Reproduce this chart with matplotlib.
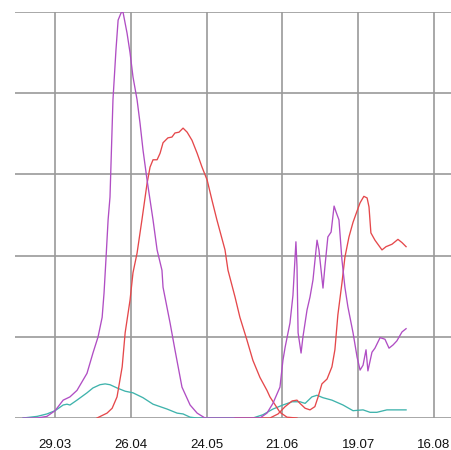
import matplotlib
matplotlib.use("Agg")
import matplotlib.pyplot as plt
import numpy as np

# days counted from 29.03, values in grid units
tick_days = [0, 28, 56, 84, 112, 140]
tick_labels = ["29.03", "26.04", "24.05", "21.06", "19.07", "16.08"]

purple_days = [-11.8, -6.6, -3.0, 0, 3.0, 5.5, 8.1, 11.8, 14.0, 15.9, 17.4, 18.1, 18.8, 19.6,
               20.3, 21.4, 22.5, 23.3, 24.4, 25.1, 26.6, 27.7, 28.8, 30.3, 31.4, 32.5, 34.0,
               36.2, 37.7, 39.5, 39.9, 42.5, 44.3, 46.9, 49.9, 52.5, 55.4, 75.7, 78.3, 80.5,
               83.1, 84.2, 85.0, 86.8, 87.9, 89.0, 89.4, 89.8, 90.9, 91.6, 93.1, 94.2, 95.3,
               96.8, 97.5, 99.0, 99.7, 100.8, 102.0, 103.1, 103.8, 104.9, 106.0, 107.1, 108.2,
               110.1, 111.6, 112.7, 113.8, 114.9, 115.6, 117.1, 118.2, 120.1, 121.9, 123.4,
               124.9, 126.3, 128.2, 129.7]
purple_vals = [0, 0, 0.02, 0.09, 0.22, 0.26, 0.34, 0.55, 0.80, 1.00, 1.24, 1.54, 1.95, 2.44,
               2.72, 3.92, 4.53, 4.90, 4.99, 5.0, 4.74, 4.50, 4.20, 3.92, 3.63, 3.30, 2.93,
               2.44, 2.07, 1.82, 1.61, 1.17, 0.84, 0.38, 0.16, 0.06, 0, 0, 0.06, 0.18,
               0.38, 0.71, 0.87, 1.17, 1.51, 2.17, 1.86, 1.05, 0.80, 1.00, 1.33, 1.49, 1.70,
               2.19, 2.07, 1.60, 1.86, 2.23, 2.29, 2.61, 2.54, 2.44, 1.95, 1.61, 1.37,
               1.05, 0.75, 0.59, 0.65, 0.84, 0.58, 0.81, 0.86, 0.99, 0.97, 0.86,
               0.90, 0.95, 1.06, 1.10]

red1_days = [15.5, 19.2, 21.1, 22.9, 24.8, 25.9, 27.7, 28.8, 30.3, 32.1, 34.0, 35.1, 36.2,
             37.7, 38.8, 39.9, 41.7, 43.2, 44.3, 45.8, 47.3, 48.8, 50.6, 52.5, 54.3, 56.2,
             58.0, 59.8, 62.8, 63.9, 66.5, 68.3, 70.9, 73.1, 75.7, 78.3, 79.4, 83.1, 85.7, 89.4]
red1_vals = [0, 0.06, 0.12, 0.26, 0.63, 1.05, 1.45, 1.79, 2.03, 2.44, 2.89, 3.09, 3.18,
             3.18, 3.26, 3.39, 3.45, 3.46, 3.51, 3.52, 3.57, 3.52, 3.42, 3.26, 3.09, 2.93,
             2.68, 2.44, 2.07, 1.82, 1.49, 1.24, 0.96, 0.71, 0.50, 0.34, 0.26, 0.07, 0.01, 0]

red2_days = [66.5, 79.4, 82.4, 85.0, 87.6, 89.4, 90.5, 92.4, 94.2, 96.0, 97.2, 98.6, 100.5,
             102.3, 103.4, 104.5, 106.0, 107.1, 108.6, 110.1, 111.6, 112.7, 114.1, 115.3,
             116.0, 116.7, 118.2, 120.8, 122.3, 124.5, 126.7, 128.2, 129.7]
red2_vals = [0, 0, 0.05, 0.14, 0.21, 0.22, 0.18, 0.12, 0.10, 0.14, 0.26, 0.42, 0.48,
             0.63, 0.84, 1.27, 1.66, 1.98, 2.23, 2.41, 2.55, 2.65, 2.73, 2.71,
             2.60, 2.28, 2.19, 2.07, 2.11, 2.14, 2.20, 2.16, 2.11]

teal_days = [-11.8, -6.6, -3.0, 0, 3.0, 4.4, 5.5, 8.1, 11.8, 14.0, 16.6, 18.5, 20.3, 22.9,
             25.9, 28.8, 32.5, 36.2, 41.4, 45.1, 47.3, 49.9, 52.5, 73.1, 76.8, 80.5, 84.2,
             87.6, 90.5, 92.4, 94.9, 96.8, 99.0, 102.3, 106.4, 110.1, 113.8, 116.4, 118.9,
             122.6, 126.3, 129.7]
teal_vals = [0, 0.02, 0.05, 0.09, 0.16, 0.17, 0.16, 0.22, 0.31, 0.37, 0.41, 0.42, 0.41, 0.37,
             0.33, 0.31, 0.25, 0.17, 0.11, 0.06, 0.05, 0.01, 0, 0, 0.04, 0.11, 0.16,
             0.20, 0.20, 0.18, 0.26, 0.28, 0.25, 0.22, 0.16, 0.09, 0.10, 0.07, 0.07,
             0.10, 0.10, 0.10]

fig = plt.figure(figsize=(4.51, 4.50), dpi=100)
ax = fig.add_axes([15 / 451, 32 / 450, 436 / 451, 406 / 450])

ax.plot(teal_days, teal_vals, color="#3fb3ac", lw=0.95)
ax.plot(red1_days, red1_vals, color="#e5484b", lw=0.95)
ax.plot(red2_days, red2_vals, color="#e5484b", lw=0.95)
ax.plot(purple_days, purple_vals, color="#b04ec4", lw=0.95)

ax.set_xlim(-14.8, 146.3)
ax.set_ylim(0, 5)
ax.set_xticks(tick_days)
ax.set_xticklabels(tick_labels, fontsize=9.5, family="Liberation Sans", color="#111111")
ax.set_yticks(np.arange(0, 6))
ax.tick_params(axis="x", length=0, pad=15)
ax.tick_params(axis="y", length=0, labelleft=False)
ax.grid(True, color="#9a9a9a", lw=1.2)
ax.set_axisbelow(True)
for s in ax.spines.values():
    s.set_visible(False)

fig.savefig("out.png", dpi=100)
